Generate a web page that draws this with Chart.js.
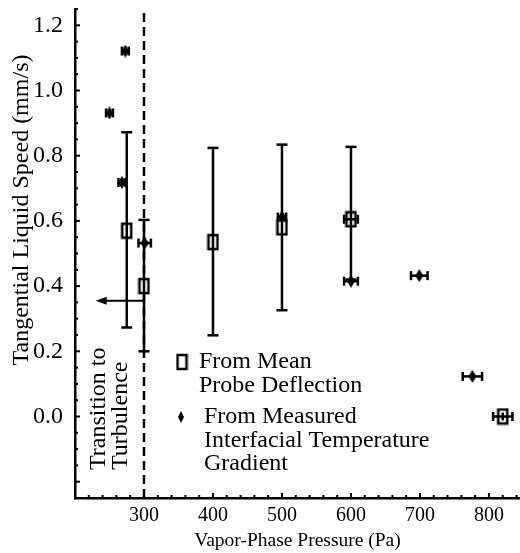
<!DOCTYPE html>
<html lang="en">
<head>
  <meta charset="UTF-8" />
  <title>Tangential Liquid Speed vs Vapor-Phase Pressure</title>
  <script src="https://cdn.jsdelivr.net/npm/chart.js"></script>
  <style>
    html, body { margin: 0; padding: 0; background: #fff; }
    #wrap { width: 520px; height: 553px; }
  </style>
</head>
<body>
  <div id="wrap"><canvas id="speedChart" width="520" height="553"></canvas></div>

  <script>
    // From Mean Probe Deflection (open squares, vertical error bars)
    const probeP  = [275, 300, 400, 500, 600, 820];
    const probeV  = [0.57, 0.40, 0.535, 0.58, 0.605, 0.0];
    const probeLo = [0.273, 0.20, 0.249, 0.326, 0.42, -0.012];
    const probeHi = [0.872, 0.603, 0.824, 0.834, 0.827, 0.012];
    const probeDx = [0, 0, 0, 0, 10, 14];

    // From Measured Interfacial Temperature Gradient (filled diamonds)
    const gradP  = [250, 268, 273, 301, 400, 500, 600, 699, 776];
    const gradV  = [0.931, 0.718, 1.121, 0.532, 0.545, 0.612, 0.415, 0.432, 0.123];
    const gradDx = [5, 5, 5, 9, 0, 6, 10, 12, 14];

    const xTickLabels = ['300', '400', '500', '600', '700', '800'];
    const yTickLabels = ['0.0', '0.2', '0.4', '0.6', '0.8', '1.0', '1.2'];

    const transitionP = 300;   // dashed line
    const arrowV = 0.355;      // arrow level
    const arrowEndP = 230;

    const FONT = '"Liberation Serif", "Times New Roman", serif';

    function squareMark() {
      const c = document.createElement('canvas');
      c.width = 13; c.height = 18;
      const g = c.getContext('2d');
      g.fillStyle = '#fff';
      g.fillRect(2, 2, 9, 14);
      g.strokeStyle = '#000';
      g.lineWidth = 2.5;
      g.strokeRect(2, 2, 9, 14);
      return c;
    }
    function diamondMark(w, h) {
      const c = document.createElement('canvas');
      c.width = w; c.height = h;
      const g = c.getContext('2d');
      g.fillStyle = '#000';
      g.beginPath();
      g.moveTo(w / 2, 0); g.lineTo(w, h / 2); g.lineTo(w / 2, h); g.lineTo(0, h / 2);
      g.closePath(); g.fill();
      return c;
    }
    const sqImg = squareMark();
    const dmImg = diamondMark(8, 13);
    const dmKey = diamondMark(6, 12);

    function line(ctx, x1, y1, x2, y2) {
      ctx.beginPath(); ctx.moveTo(x1, y1); ctx.lineTo(x2, y2); ctx.stroke();
    }

    function noPad(s) {
      s.paddingTop = 0; s.paddingBottom = 0; s.paddingLeft = 0; s.paddingRight = 0;
    }

    const extras = {
      id: 'extras',
      beforeDatasetsDraw(chart) {
        const { ctx, scales: { x, y } } = chart;
        ctx.save();
        ctx.strokeStyle = '#000';
        ctx.lineWidth = 2.5;
        ctx.setLineDash([9, 5]);
        const px = x.getPixelForValue(transitionP);
        line(ctx, px, y.top + 4, px, y.bottom);
        ctx.setLineDash([]);
        // arrow
        const ay = y.getPixelForValue(arrowV);
        const ax = x.getPixelForValue(arrowEndP);
        ctx.lineWidth = 2;
        line(ctx, px, ay, ax + 6, ay);
        ctx.fillStyle = '#000';
        ctx.beginPath();
        ctx.moveTo(ax, ay); ctx.lineTo(ax + 11, ay - 4); ctx.lineTo(ax + 11, ay + 4);
        ctx.closePath(); ctx.fill();
        ctx.restore();
      },
      afterDatasetsDraw(chart) {
        const { ctx, scales: { x, y } } = chart;
        ctx.save();
        ctx.strokeStyle = '#000';
        ctx.lineWidth = 2.5;
        // vertical error bars on squares
        probeP.forEach((p, i) => {
          const px = x.getPixelForValue(p);
          const lo = y.getPixelForValue(probeLo[i]);
          const hi = y.getPixelForValue(probeHi[i]);
          line(ctx, px, lo, px, hi);
          if (probeHi[i] - probeLo[i] > 0.1) {
            line(ctx, px - 5.5, lo, px + 5.5, lo);
            line(ctx, px - 5.5, hi, px + 5.5, hi);
          }
          if (probeDx[i]) {
            const py = y.getPixelForValue(probeV[i]);
            const l = x.getPixelForValue(p - probeDx[i]);
            const r = x.getPixelForValue(p + probeDx[i]);
            line(ctx, l, py, r, py);
            line(ctx, l, py - 4.5, l, py + 4.5);
            line(ctx, r, py - 4.5, r, py + 4.5);
          }
        });
        // horizontal error bars on diamonds
        gradP.forEach((p, i) => {
          if (!gradDx[i]) return;
          const py = y.getPixelForValue(gradV[i]);
          const l = x.getPixelForValue(p - gradDx[i]);
          const r = x.getPixelForValue(p + gradDx[i]);
          line(ctx, l, py, r, py);
          line(ctx, l, py - 4.5, l, py + 4.5);
          line(ctx, r, py - 4.5, r, py + 4.5);
        });
        ctx.restore();
      },
      afterDraw(chart) {
        const { ctx, scales: { x, y } } = chart;
        ctx.save();
        ctx.strokeStyle = '#000';
        ctx.lineWidth = 2;
        // inward ticks
        x.ticks.forEach(t => {
          const px = x.getPixelForValue(t.value);
          const major = Math.abs(t.value % 100) < 1e-6;
          line(ctx, px, x.top, px, x.top - (major ? 5 : 3));
        });
        y.ticks.forEach(t => {
          const py = y.getPixelForValue(t.value);
          const major = Math.abs(Math.round(t.value * 100) % 20) === 0;
          line(ctx, y.right, py, y.right + (major ? 5 : 3), py);
        });

        ctx.fillStyle = '#000';
        ctx.textBaseline = 'middle';

        // y axis title
        ctx.font = '24px ' + FONT;
        ctx.textAlign = 'center';
        ctx.save();
        ctx.translate(22, 210); ctx.rotate(-Math.PI / 2);
        ctx.fillText('Tangential Liquid Speed (mm/s)', 0, 0);
        ctx.restore();

        // rotated annotation
        ctx.textAlign = 'left';
        ctx.save();
        ctx.translate(99, 470); ctx.rotate(-Math.PI / 2);
        ctx.fillText('Transition to', 0, 0);
        ctx.restore();
        ctx.save();
        ctx.translate(121, 470); ctx.rotate(-Math.PI / 2);
        ctx.fillText('Turbulence', 0, 0);
        ctx.restore();

        // legend
        ctx.drawImage(sqImg, 182 - 6.5, 362 - 9);
        ctx.drawImage(dmKey, 181 - 3, 417 - 6);
        ctx.fillText('From Mean', 199, 362);
        ctx.fillText('Probe Deflection', 199, 386);
        ctx.fillText('From Measured', 204, 417);
        ctx.fillText('Interfacial Temperature', 204, 441);
        ctx.fillText('Gradient', 204, 464);
        ctx.restore();
      }
    };

    const ctx = document.getElementById('speedChart').getContext('2d');
    new Chart(ctx, {
      type: 'scatter',
      data: {
        datasets: [
          {
            label: 'From Mean Probe Deflection',
            data: probeP.map((p, i) => ({ x: p, y: probeV[i] })),
            pointStyle: sqImg,
            pointRadius: 7
          },
          {
            label: 'From Measured Interfacial Temperature Gradient',
            data: gradP.map((p, i) => ({ x: p, y: gradV[i] })),
            pointStyle: dmImg,
            pointRadius: 6
          }
        ]
      },
      options: {
        responsive: false,
        animation: false,
        layout: { autoPadding: false, padding: { top: 9, right: 0, bottom: 0, left: 0 } },
        plugins: { legend: { display: false }, tooltip: { enabled: false } },
        scales: {
          x: {
            type: 'linear',
            min: 200, max: 845,
            grid: { display: false, drawTicks: false },
            border: { display: true, color: '#000', width: 2.5 },
            ticks: {
              stepSize: 20, autoSkip: false, includeBounds: false, maxRotation: 0,
              padding: 6, color: '#000',
              font: { family: FONT, size: 20 },
              callback: v => xTickLabels.includes(String(v)) ? String(v) : ''
            },
            title: {
              display: true, text: 'Vapor-Phase Pressure (Pa)', color: '#000',
              font: { family: FONT, size: 19.5 }, padding: 0
            },
            afterFit: s => { s.height = 55; noPad(s); }
          },
          y: {
            type: 'linear',
            min: -0.25, max: 1.25,
            grid: { display: false, drawTicks: false },
            border: { display: true, color: '#000', width: 2.5 },
            ticks: {
              stepSize: 0.05, autoSkip: false, includeBounds: false,
              padding: 12, color: '#000',
              font: { family: FONT, size: 24 },
              callback: v => yTickLabels.find(t => Math.abs(parseFloat(t) - v) < 1e-6) || ''
            },
            afterFit: s => { s.width = 75; noPad(s); }
          }
        }
      },
      plugins: [extras]
    });
  </script>
</body>
</html>
